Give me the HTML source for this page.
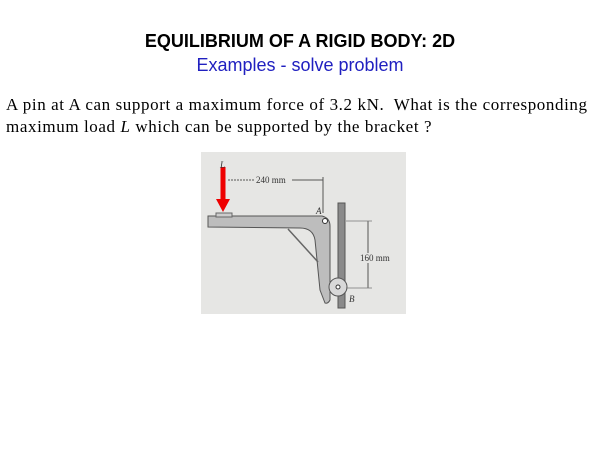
<!DOCTYPE html>
<html><head><style>
body{margin:0;width:600px;height:450px;background:#fff;position:relative;overflow:hidden}
.t{position:absolute;left:0;width:600px;text-align:center;font-family:"Liberation Sans",sans-serif}
.p{position:absolute;left:6px;top:94px;font-family:"Liberation Serif",serif;font-size:17px;line-height:22px;color:#000;white-space:nowrap;letter-spacing:0.6px}
</style></head><body>
<div class="t" style="top:31px;font-size:18px;font-weight:bold">EQUILIBRIUM OF A RIGID BODY: 2D</div>
<div class="t" style="top:55px;font-size:18px;color:#2020c0">Examples - solve problem</div>
<div class="p">A pin at A can support a maximum force of 3.2 kN.&nbsp; What is the corresponding<br>maximum load <i>L</i> which can be supported by the bracket ?</div>
<svg style="position:absolute;left:0;top:0" width="600" height="450">
<rect x="201" y="152" width="205" height="162" fill="#e6e6e4"/>
<rect x="338" y="203" width="7" height="105" fill="#8a8a8a" stroke="#555"/>
<path d="M208,216 L322,216 Q330,218 330,226 L330,300 Q328,304 325,303 L320,290 L315,240 Q313,228 300,228 L208,227 Z" fill="#bdbdbd" stroke="#555"/>
<line x1="288" y1="229" x2="318" y2="262" stroke="#666" stroke-width="1.5"/>
<rect x="216" y="213" width="16" height="4" fill="#ccc" stroke="#666"/>
<circle cx="325" cy="221" r="2.5" fill="#fff" stroke="#333"/>
<circle cx="338" cy="287" r="9" fill="#d8d8d8" stroke="#555"/>
<circle cx="338" cy="287" r="2" fill="#fff" stroke="#333"/>
<line x1="223" y1="167" x2="223" y2="200" stroke="#ee0000" stroke-width="5"/>
<polygon points="216,199 230,199 223,212" fill="#ee0000"/>
<line x1="228" y1="180" x2="254" y2="180" stroke="#555" stroke-dasharray="2,1"/>
<line x1="292" y1="180" x2="323" y2="180" stroke="#555"/>
<line x1="323" y1="177" x2="323" y2="213" stroke="#555"/>
<line x1="368" y1="221" x2="368" y2="288" stroke="#555"/>
<line x1="346" y1="221" x2="372" y2="221" stroke="#777" stroke-width="0.7"/>
<line x1="346" y1="288" x2="372" y2="288" stroke="#777" stroke-width="0.7"/>
<g font-family="Liberation Serif,serif" font-size="9" fill="#333">
<text x="220" y="168" font-style="italic">L</text>
<text x="256" y="183">240 mm</text>
<rect x="358" y="253" width="30" height="10" fill="#e6e6e4"/>
<text x="360" y="261">160 mm</text>
<text x="316" y="214" font-style="italic">A</text>
<text x="349" y="302" font-style="italic">B</text>
</g>
</svg>
</body></html>
